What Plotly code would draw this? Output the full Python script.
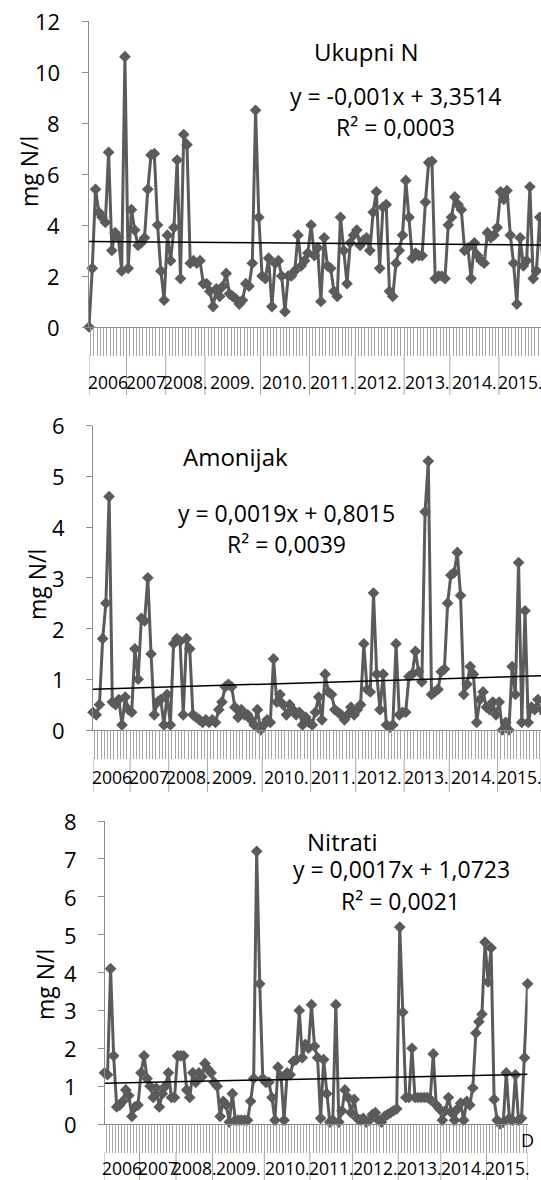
import plotly.graph_objects as go

W, H = 541, 1180

# ---------------- data ----------------
years = ["2006", "2007", "2008.", "2009.", "2010.", "2011.", "2012.", "2013.", "2014.", "2015."]
counts = [12, 12, 12, 17, 15, 14, 15, 14, 15, 14]

ukupni_n = [
    0, 2.3, 5.4, 4.5, 4.3, 4.1, 6.85, 3.0, 3.7, 3.5, 2.2, 10.6,
    2.3, 4.6, 3.8, 3.2, 3.3, 3.5, 5.4, 6.75, 6.8, 4.0, 2.2, 1.05,
    3.6, 2.6, 3.9, 6.55, 1.9, 7.55, 7.15, 2.5, 2.6, 2.5, 2.6, 1.7,
    1.7, 1.4, 0.8, 1.5, 1.2, 1.6, 2.1, 1.3, 1.2, 1.1, 0.9, 1.05, 1.7, 1.6, 2.5, 8.5, 4.3,
    2.0, 1.9, 2.7, 0.8, 2.5, 2.6, 2.0, 0.6, 2.0, 2.0, 2.2, 3.6, 2.4, 2.6, 2.9,
    4.0, 2.8, 3.1, 1.0, 3.5, 2.4, 2.3, 1.4, 1.2, 4.3, 3.0, 1.7, 3.3, 3.6,
    3.8, 3.2, 3.4, 3.5, 3.0, 4.5, 5.3, 2.3, 4.7, 4.8, 1.4, 1.2, 2.5, 3.0, 3.6,
    5.75, 4.3, 2.7, 2.9, 2.8, 2.8, 4.9, 6.45, 6.5, 1.9, 2.0, 2.0, 1.9, 4.0,
    4.3, 5.1, 4.8, 4.6, 3.0, 3.1, 1.9, 3.3, 2.8, 2.6, 2.5, 3.7, 3.5, 3.6, 3.9,
    5.3, 5.0, 5.35, 3.6, 2.5, 0.9, 3.5, 2.4, 2.6, 5.5, 1.9, 2.2, 4.3, 2.5,
]

amonijak = [
    0.35, 0.3, 0.5, 1.8, 2.5, 4.6, 0.55, 0.5, 0.6, 0.1, 0.65, 0.4,
    0.35, 1.6, 1.0, 2.2, 2.15, 3.0, 1.5, 0.3, 0.55, 0.6, 0.1, 0.7,
    0.1, 1.7, 1.8, 1.75, 0.3, 1.8, 1.6, 0.3, 0.25, 0.2, 0.15, 0.2,
    0.15, 0.2, 0.15, 0.4, 0.55, 0.85, 0.9, 0.85, 0.45, 0.25, 0.4, 0.3, 0.3, 0.2, 0.1, 0.4, 0.0,
    0.1, 0.2, 0.15, 1.4, 0.55, 0.7, 0.5, 0.3, 0.5, 0.4, 0.3, 0.35, 0.1, 0.25, 0.15,
    0.1, 0.35, 0.65, 0.2, 1.1, 0.75, 0.7, 0.4, 0.35, 0.3, 0.2, 0.3, 0.45, 0.3,
    0.4, 0.5, 1.7, 0.8, 0.75, 2.7, 1.1, 0.4, 1.1, 0.1, 0.05, 0.1, 1.7, 0.3, 0.35,
    0.35, 1.05, 1.1, 1.55, 1.15, 0.95, 4.3, 5.3, 0.7, 0.75, 0.8, 1.15, 1.2, 2.5,
    3.05, 3.1, 3.5, 2.65, 0.7, 0.9, 1.25, 1.1, 0.15, 0.6, 0.75, 0.45, 0.4, 0.55, 0.3,
    0.55, 0.0, 0.15, 0.0, 1.25, 0.7, 3.3, 0.15, 2.35, 0.15, 0.45, 0.4, 0.6, 0.3,
]

nitrati = [
    1.35, 1.3, 4.1, 1.8, 0.45, 0.5, 0.6, 0.9, 0.75, 0.2, 0.45, 0.5,
    1.35, 1.8, 1.2, 1.0, 0.7, 0.95, 0.45, 0.8, 1.0, 1.35, 0.7, 0.7,
    1.8, 1.8, 1.8, 0.9, 0.7, 1.35, 1.1, 1.35, 1.25, 1.6, 1.45, 1.35,
    1.1, 1.0, 0.2, 0.6, 0.5, 0.05, 0.8, 0.1, 0.1, 0.1, 0.1, 0.1, 0.6, 1.2, 7.2, 3.7, 1.2,
    1.1, 1.1, 0.7, 0.1, 1.5, 1.25, 0.1, 1.35, 1.3, 1.65, 1.7, 3.0, 1.75, 2.1, 2.0,
    3.15, 2.05, 1.75, 0.15, 1.7, 0.8, 0.05, 0.1, 3.15, 0.05, 0.35, 0.9, 0.7, 0.3,
    0.65, 0.15, 0.1, 0.15, 0.05, 0.1, 0.25, 0.3, 0.1, 0.05, 0.2, 0.25, 0.3, 0.35, 0.4,
    5.2, 2.95, 0.7, 0.7, 2.0, 0.7, 0.7, 0.7, 0.7, 0.7, 0.65, 1.85, 0.5, 0.4,
    0.1, 0.35, 0.7, 0.3, 0.1, 0.4, 0.55, 0.1, 0.6, 0.5, 0.95, 2.4, 2.7, 2.9, 4.8,
    3.75, 4.65, 0.65, 0.1, 0.0, 0.05, 1.35, 0.15, 0.1, 1.3, 0.1, 0.15, 1.75, 3.7,
]

series = [ukupni_n, amonijak, nitrati]
series_names = ["Ukupni N", "Amonijak", "Nitrati"]
slopes = [-0.001, 0.0019, 0.0017]
intercepts = [3.3514, 0.8015, 1.0723]
eq_labels = ["y = -0,001x + 3,3514", "y = 0,0019x + 0,8015", "y = 0,0017x + 1,0723"]
r2_labels = ["R² = 0,0003", "R² = 0,0039", "R² = 0,0021"]
y_max = [12, 6, 8]
y_dtick = [2, 1, 1]
y_title = "mg N/l"
end_label = "D"

# ---------------- layout (pixels) ----------------
FONT = "Open Sans"
GRAY_LINE = "#5b5b5b"
AXIS_COL = "#8c8c8c"

panels = [
    dict(ax_x=89, step=3.266, base=327, top=21, lab_y=382, sep_y1=395, tl_right=62,
         name_xy=(366, 52), eq_xy=(395, 96), r2_xy=(395, 127), ytitle_xy=(29, 172),
         show_end=True),
    dict(ax_x=93, step=3.224, base=730, top=425.5, lab_y=777, sep_y1=792, tl_right=67,
         name_xy=(235, 457), eq_xy=(286, 513), r2_xy=(286, 544), ytitle_xy=(37, 585),
         show_end=False),
    dict(ax_x=104.5, step=(527.6 - 104.5) / 139, base=1124, top=821, lab_y=1168, sep_y1=1182,
         tl_right=78.5, name_xy=(342, 841), eq_xy=(401, 869), r2_xy=(400, 901),
         ytitle_xy=(45, 985), show_end=True),
]

def px_x(v):
    return v / W

def px_y(v):
    return 1 - v / H

fig = go.Figure()
shapes = []
annotations = []

for k, (vals, p) in enumerate(zip(series, panels)):
    n = len(vals)
    idx = list(range(1, n + 1))
    sfx = "" if k == 0 else str(k + 1)
    xa, ya = "x" + sfx, "y" + sfx

    fig.add_trace(go.Scatter(
        x=idx, y=vals, xaxis=xa, yaxis=ya, mode="lines+markers",
        line=dict(color=GRAY_LINE, width=3),
        marker=dict(symbol="diamond", size=9, color=GRAY_LINE),
        cliponaxis=False, showlegend=False, hoverinfo="skip"))
    trend = [slopes[k] * i + intercepts[k] for i in idx]
    fig.add_trace(go.Scatter(
        x=idx, y=trend, xaxis=xa, yaxis=ya, mode="lines",
        line=dict(color="black", width=1.5), showlegend=False, hoverinfo="skip"))

    x_end_px = p["ax_x"] + (n - 1) * p["step"]
    vis_end = min(x_end_px, W)
    xr_end = 1 + (vis_end - p["ax_x"]) / p["step"]

    fig.layout["xaxis" + sfx] = dict(
        domain=[px_x(p["ax_x"]), px_x(vis_end)], range=[1, xr_end],
        anchor=ya, showgrid=False, zeroline=False, showline=True, automargin=False,
        linecolor=AXIS_COL, linewidth=1, tickmode="linear", tick0=0.5, dtick=1,
        ticks="outside", ticklen=28, tickwidth=1, tickcolor="#a6a6a6",
        showticklabels=False, fixedrange=True)
    fig.layout["yaxis" + sfx] = dict(
        domain=[px_y(p["base"]), px_y(p["top"])], range=[0, y_max[k]],
        anchor=xa, showgrid=False, zeroline=False, showline=True, automargin=False,
        linecolor=AXIS_COL, linewidth=1, tickmode="linear", tick0=0, dtick=y_dtick[k],
        ticks="outside", ticklen=6, tickcolor=AXIS_COL, showticklabels=False,
        fixedrange=True)

    # y tick labels
    for v in range(0, y_max[k] + 1, y_dtick[k]):
        annotations.append(dict(
            x=px_x(p["tl_right"]), y=v, xref="paper", yref=ya, text=str(v),
            showarrow=False, xanchor="right", yanchor="middle",
            font=dict(family=FONT, size=22, color="black")))

    # year group separators and labels
    bounds = [1.0]
    c = 0
    for cnt in counts:
        c += cnt
        bounds.append(c + 0.5 if c < n else float(n))
    for j, yr in enumerate(years):
        a, b = bounds[j], bounds[j + 1]
        annotations.append(dict(
            x=(a + b) / 2, y=px_y(p["lab_y"]), xref=xa, yref="paper",
            text=yr, showarrow=False, xanchor="center", yanchor="middle",
            font=dict(family=FONT, size=17.5, color="black")))
    for bnd in bounds:
        shapes.append(dict(
            type="line", xref=xa, yref="paper", x0=bnd, x1=bnd,
            y0=px_y(p["base"] + 28), y1=px_y(p["sep_y1"]),
            line=dict(color="#a6a6a6", width=1)))

    if p["show_end"]:
        annotations.append(dict(
            x=n, y=px_y(p["base"] + 16), xref=xa, yref="paper", text=end_label,
            showarrow=False, xanchor="center", yanchor="middle",
            font=dict(family=FONT, size=18, color="black")))

    for txt, (tx, ty), fs in [(series_names[k], p["name_xy"], 24),
                              (eq_labels[k], p["eq_xy"], 23),
                              (r2_labels[k], p["r2_xy"], 23)]:
        annotations.append(dict(
            x=px_x(tx), y=px_y(ty), xref="paper", yref="paper", text=txt,
            showarrow=False, xanchor="center", yanchor="middle",
            font=dict(family=FONT, size=fs, color="black")))

    annotations.append(dict(
        x=px_x(p["ytitle_xy"][0]), y=px_y(p["ytitle_xy"][1]), xref="paper", yref="paper",
        text=y_title, textangle=-90, showarrow=False, xanchor="center", yanchor="middle",
        font=dict(family=FONT, size=23, color="black")))

fig.update_layout(
    width=W, height=H, margin=dict(l=0, r=0, t=0, b=0, autoexpand=False),
    paper_bgcolor="white", plot_bgcolor="white", hovermode=False,
    shapes=shapes, annotations=annotations, showlegend=False)

fig.write_html("out.html", config={"displayModeBar": False, "staticPlot": True},
               post_script="document.body.style.margin='0px';")
